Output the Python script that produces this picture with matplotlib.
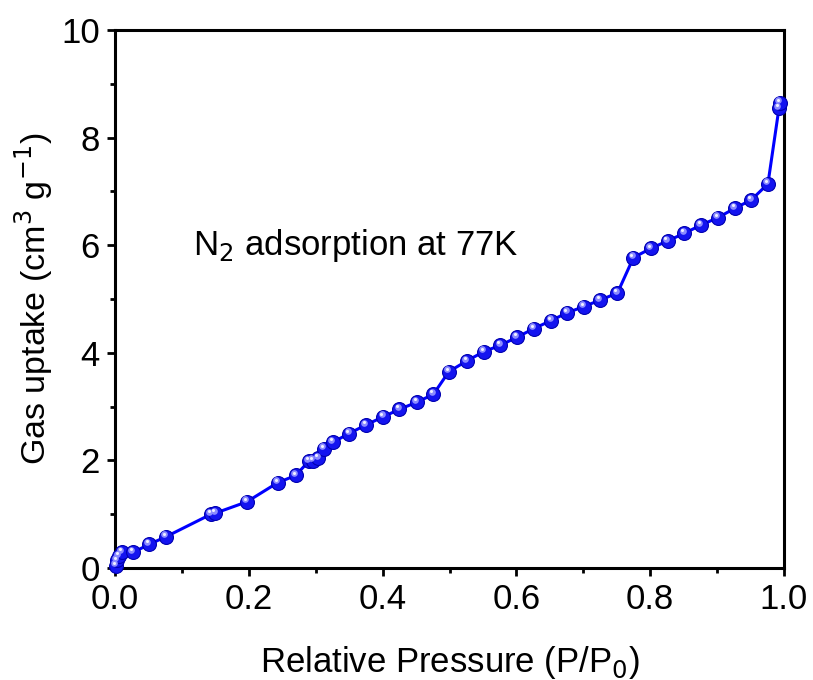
"""N2 adsorption isotherm at 77 K."""

import matplotlib

matplotlib.use("Agg")
import matplotlib.pyplot as plt
import matplotlib.transforms as mtransforms
from matplotlib.ticker import MultipleLocator

plt.rcParams["font.family"] = ["Liberation Sans", "DejaVu Sans"]

# relative pressure P/P0
pressure = [
    0.001, 0.003, 0.006, 0.010, 0.027, 0.051, 0.076, 0.1435, 0.150, 0.197,
    0.243, 0.270, 0.290, 0.296, 0.304, 0.312, 0.326, 0.350, 0.375, 0.401,
    0.425, 0.451, 0.476, 0.499, 0.526, 0.551, 0.576, 0.601, 0.626, 0.652,
    0.676, 0.701, 0.725, 0.751, 0.775, 0.801, 0.826, 0.851, 0.876, 0.901,
    0.927, 0.951, 0.976, 0.9925, 0.994,
]
# gas uptake, cm3 g-1
uptake = [
    0.04, 0.14, 0.22, 0.30, 0.29, 0.44, 0.58, 1.00, 1.02, 1.23,
    1.585, 1.72, 1.99, 1.995, 2.04, 2.22, 2.34, 2.50, 2.66, 2.81,
    2.95, 3.08, 3.23, 3.65, 3.85, 4.02, 4.14, 4.29, 4.45, 4.60,
    4.745, 4.86, 4.98, 5.11, 5.77, 5.94, 6.08, 6.22, 6.375, 6.51,
    6.69, 6.84, 7.14, 8.545, 8.65,
]

FS = 25

fig = plt.figure(figsize=(8.13, 6.80), dpi=100)
ax = fig.add_axes([0.1415, 0.1647, 0.8228, 0.7912])

ax.plot(pressure, uptake, color="#0000ff", linewidth=2.2, zorder=2, clip_on=False)
ax.plot(
    pressure, uptake, linestyle="none", marker="o", markersize=10,
    markerfacecolor="#1414f0", markeredgecolor="#0000b0", markeredgewidth=0.8,
    zorder=3, clip_on=False,
)
# sphere highlight
shine = ax.transData + mtransforms.ScaledTranslation(-1.2 / 72, 1.7 / 72, fig.dpi_scale_trans)
ax.plot(
    pressure, uptake, linestyle="none", marker="o", markersize=4.8,
    markerfacecolor="#8c8cff", markeredgewidth=0, transform=shine,
    zorder=4, clip_on=False,
)
shine2 = ax.transData + mtransforms.ScaledTranslation(-1.5 / 72, 2.1 / 72, fig.dpi_scale_trans)
ax.plot(
    pressure, uptake, linestyle="none", marker="o", markersize=2.2,
    markerfacecolor="#f0f0ff", markeredgewidth=0, transform=shine2,
    zorder=5, clip_on=False,
)

ax.set_xlim(0, 1.0)
ax.set_ylim(0, 10)
ax.xaxis.set_major_locator(MultipleLocator(0.2))
ax.xaxis.set_minor_locator(MultipleLocator(0.1))
ax.yaxis.set_major_locator(MultipleLocator(2))
ax.yaxis.set_minor_locator(MultipleLocator(1))
ax.tick_params(which="major", direction="out", length=6, width=2, labelsize=FS, pad=5)
ax.tick_params(which="minor", direction="out", length=3.5, width=2)
for spine in ax.spines.values():
    spine.set_linewidth(2.2)

ax.set_xlabel("Relative Pressure (P/P$_0$)", fontsize=FS, labelpad=20)
ax.set_ylabel("Gas uptake (cm$^3$ g$^{-1}$)", fontsize=24.5, labelpad=4)
ax.text(0.117, 6.0, "N$_2$ adsorption at 77K", fontsize=FS, va="center", ha="left")

fig.savefig("out.png", dpi=100)
plt.close(fig)
